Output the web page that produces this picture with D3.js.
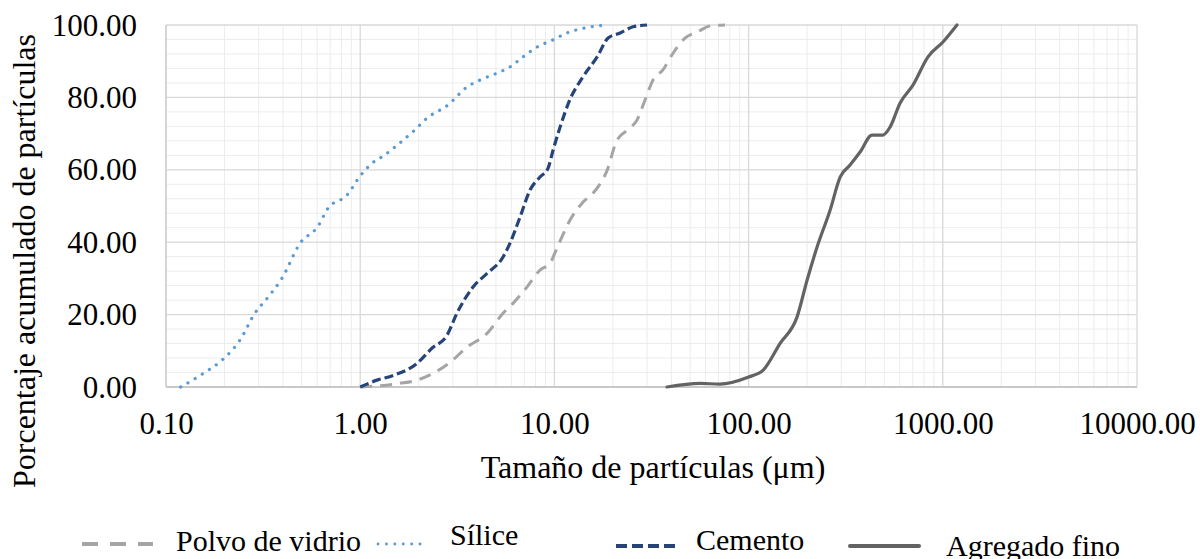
<!DOCTYPE html>
<html>
<head>
<meta charset="utf-8">
<script src="https://cdn.jsdelivr.net/npm/d3@7"></script>
<style>
    body { margin: 0; background: #fff; }
    svg text { font-family: "Times New Roman", "Liberation Serif", serif; fill: #000; }
</style>
</head>
<body>
<div id="chart-area"></div>
<script>
// particle size (um) and cumulative passing (%)
const polvoSize = [1.0, 1.60, 1.96, 2.90, 3.55, 4.50, 5.44, 6.12, 7.22, 8.43, 9.49, 10.3, 12.0, 14.0, 15.8, 18.7, 21.0, 24.5, 26.6, 29.3, 32.2, 36.2, 40.8, 47.0, 54.2, 63.3, 75.6];
const polvoPct = [0, 1.0, 1.9, 6.8, 11.0, 14.8, 20.4, 23.1, 27.6, 32.3, 34.2, 38.3, 46.0, 51.0, 53.5, 59.9, 68.2, 71.5, 73.7, 79.3, 84.8, 87.6, 92.2, 96.4, 98.0, 99.7, 100];

const siliceSize = [0.119, 0.155, 0.194, 0.240, 0.287, 0.335, 0.396, 0.490, 0.606, 0.683, 0.855, 1.0, 1.15, 1.34, 1.55, 1.91, 2.21, 2.83, 3.55, 4.14, 5.06, 5.90, 6.89, 8.13, 9.84, 11.6, 14.7, 18.9];
const silicePct = [0, 3.7, 7.4, 12.9, 20.4, 24.8, 30.1, 39.7, 44.4, 49.4, 53.0, 58.3, 61.8, 64.1, 66.8, 71.0, 74.3, 77.9, 82.9, 84.8, 86.7, 88.4, 91.2, 93.9, 95.9, 97.8, 99.3, 100];

const cementoSize = [1.0, 1.22, 1.48, 1.96, 2.34, 2.80, 3.15, 3.81, 4.50, 5.44, 5.90, 6.65, 7.49, 8.43, 9.27, 9.84, 10.7, 12.0, 14.0, 16.6, 18.9, 21.8, 25.4, 30.0];
const cementoPct = [0, 1.9, 3.2, 6.5, 10.7, 14.3, 20.4, 27.6, 31.4, 35.9, 39.7, 46.9, 54.4, 58.0, 60.4, 65.4, 71.8, 79.3, 85.6, 91.2, 96.4, 97.8, 99.5, 100];

const agregadoSize = [38.0, 56.2, 71.2, 99.3, 118.6, 145, 177.5, 200, 225, 263, 296, 333, 375, 432, 492, 535, 602, 702, 839, 1002, 1183];
const agregadoPct = [0, 1.0, 0.8, 2.7, 4.6, 12.0, 19.3, 29.5, 38.6, 48.9, 58.0, 61.3, 64.9, 69.6, 69.6, 71.8, 78.4, 83.4, 91.2, 95.3, 100];

const seriesNames = ["Polvo de vidrio", "Sílice", "Cemento", "Agregado fino"];
const xTickValues = [0.1, 1, 10, 100, 1000, 10000];
const yTickValues = [0, 20, 40, 60, 80, 100];


class GradingVis {

    constructor(_parentElement) {
        this.parentElement = _parentElement;
        this.initVis();
    }

    initVis() {
        let vis = this;

        vis.margin = {top: 25, right: 63, bottom: 172, left: 166};
        vis.width = 1200 - vis.margin.left - vis.margin.right;
        vis.height = 559 - vis.margin.top - vis.margin.bottom;

        vis.svg = d3.select("#" + vis.parentElement).append("svg")
            .attr("width", 1200)
            .attr("height", 559)
            .append("g")
            .attr("transform", "translate(" + vis.margin.left + "," + vis.margin.top + ")");

        vis.colors = {
            'polvo': '#A5A5A5',
            'silice': '#5B9BD5',
            'cemento': '#264478',
            'agregado': '#636363'
        };

        // line styles per series (Excel-like dashes)
        vis.styles = [
            {color: vis.colors.polvo, width: 3, dash: "12,8", cap: "butt"},
            {color: vis.colors.silice, width: 3.2, dash: "0.1,8.3", cap: "round"},
            {color: vis.colors.cemento, width: 3.2, dash: "9,4", cap: "butt"},
            {color: vis.colors.agregado, width: 3.2, dash: null, cap: "round"}
        ];

        vis.x = d3.scaleLog()
            .domain([0.1, 10000])
            .range([0, vis.width]);

        vis.y = d3.scaleLinear()
            .domain([0, 100])
            .range([vis.height, 0]);

        vis.wrangleData();
    }

    wrangleData() {
        let vis = this;

        let sizes = [polvoSize, siliceSize, cementoSize, agregadoSize];
        let pcts = [polvoPct, silicePct, cementoPct, agregadoPct];

        vis.displayData = seriesNames.map((name, i) => {
            return {
                name: name,
                style: vis.styles[i],
                values: sizes[i].map((s, j) => ({size: s, pct: pcts[i][j]}))
            };
        });

        vis.updateVis();
    }

    updateVis() {
        let vis = this;

        // minor gridlines
        let minorX = [];
        for (let e = -1; e < 4; e++) {
            for (let m = 2; m <= 9; m++) minorX.push(m * Math.pow(10, e));
        }
        let minorY = d3.range(0, 101, 4).filter(d => d % 20 !== 0);

        vis.svg.append("g").selectAll("line.minor-x")
            .data(minorX)
            .enter().append("line")
            .attr("x1", d => vis.x(d)).attr("x2", d => vis.x(d))
            .attr("y1", 0).attr("y2", vis.height)
            .attr("stroke", "#ececec").attr("stroke-width", 1);

        vis.svg.append("g").selectAll("line.minor-y")
            .data(minorY)
            .enter().append("line")
            .attr("x1", 0).attr("x2", vis.width)
            .attr("y1", d => vis.y(d)).attr("y2", d => vis.y(d))
            .attr("stroke", "#ececec").attr("stroke-width", 1);

        // major gridlines
        vis.svg.append("g").selectAll("line.major-x")
            .data(xTickValues)
            .enter().append("line")
            .attr("x1", d => vis.x(d)).attr("x2", d => vis.x(d))
            .attr("y1", 0).attr("y2", vis.height)
            .attr("stroke", "#d9d9d9").attr("stroke-width", 1.3);

        vis.svg.append("g").selectAll("line.major-y")
            .data(yTickValues)
            .enter().append("line")
            .attr("x1", 0).attr("x2", vis.width)
            .attr("y1", d => vis.y(d)).attr("y2", d => vis.y(d))
            .attr("stroke", "#d9d9d9").attr("stroke-width", 1.3);

        // axis lines
        vis.svg.append("line")
            .attr("x1", 0).attr("x2", vis.width)
            .attr("y1", vis.height).attr("y2", vis.height)
            .attr("stroke", "#bfbfbf").attr("stroke-width", 1.5);
        vis.svg.append("line")
            .attr("x1", 0).attr("x2", 0)
            .attr("y1", 0).attr("y2", vis.height)
            .attr("stroke", "#cfcfcf").attr("stroke-width", 1.5);

        // axes (labels only)
        let xAxis = d3.axisBottom(vis.x)
            .tickValues(xTickValues)
            .tickFormat(d3.format(".2f"))
            .tickSize(0)
            .tickPadding(0);
        let yAxis = d3.axisLeft(vis.y)
            .tickValues(yTickValues)
            .tickFormat(d3.format(".2f"))
            .tickSize(0)
            .tickPadding(0);

        let xg = vis.svg.append("g")
            .attr("class", "x-axis axis")
            .attr("transform", "translate(0," + vis.height + ")")
            .call(xAxis);
        xg.select(".domain").remove();
        xg.selectAll("text")
            .attr("font-size", 31)
            .attr("dy", null)
            .attr("y", 47)
            .attr("font-family", "'Times New Roman', 'Liberation Serif', serif")
            .attr("fill", "#000");

        let yg = vis.svg.append("g")
            .attr("class", "y-axis axis")
            .call(yAxis);
        yg.select(".domain").remove();
        yg.selectAll("text")
            .attr("font-size", 31)
            .attr("dy", null)
            .attr("y", 10)
            .attr("x", -29)
            .attr("font-family", "'Times New Roman', 'Liberation Serif', serif")
            .attr("fill", "#000");

        // axis titles
        vis.svg.append("text")
            .attr("x", 487)
            .attr("y", 453)
            .attr("text-anchor", "middle")
            .attr("font-size", 32)
            .text("Tamaño de partículas (μm)");

        vis.svg.append("text")
            .attr("transform", "translate(" + (35 - vis.margin.left) + "," + (261 - vis.margin.top) + ") rotate(-90)")
            .attr("text-anchor", "middle")
            .attr("font-size", 32)
            .text("Porcentaje acumulado de partículas");

        // curves
        let line = d3.line()
            .x(d => vis.x(d.size))
            .y(d => vis.y(d.pct))
            .curve(d3.curveMonotoneX);

        vis.svg.append("g").selectAll("path.series")
            .data(vis.displayData)
            .enter().append("path")
            .attr("class", "series")
            .attr("d", d => line(d.values))
            .attr("fill", "none")
            .attr("stroke", d => d.style.color)
            .attr("stroke-width", d => d.style.width)
            .attr("stroke-dasharray", d => d.style.dash)
            .attr("stroke-linecap", d => d.style.cap)
            .attr("stroke-linejoin", "round");

        // legend (Excel placed the entries a bit unevenly)
        let legendLayout = [
            {x1: 82, x2: 153, lineY: 544, textX: 176, textY: 551, width: 4, dash: "16,12", cap: "butt"},
            {x1: 378, x2: 423, lineY: 544, textX: 450, textY: 545, width: 2.8, dash: "0.1,8.3", cap: "round"},
            {x1: 616, x2: 677, lineY: 546, textX: 696, textY: 550, width: 4, dash: "11,5", cap: "butt"},
            {x1: 850, x2: 919, lineY: 546, textX: 946, textY: 556, width: 4, dash: null, cap: "round"}
        ];

        let legend = d3.select("#" + vis.parentElement).select("svg").append("g")
            .attr("class", "legend");

        vis.displayData.forEach((d, i) => {
            let l = legendLayout[i];
            legend.append("line")
                .attr("x1", l.x1).attr("x2", l.x2)
                .attr("y1", l.lineY).attr("y2", l.lineY)
                .attr("stroke", d.style.color)
                .attr("stroke-width", l.width)
                .attr("stroke-dasharray", l.dash)
                .attr("stroke-linecap", l.cap);
            legend.append("text")
                .attr("x", l.textX)
                .attr("y", l.textY)
                .attr("font-size", 30)
                .text(d.name);
        });
    }
}

new GradingVis("chart-area");
</script>
</body>
</html>
